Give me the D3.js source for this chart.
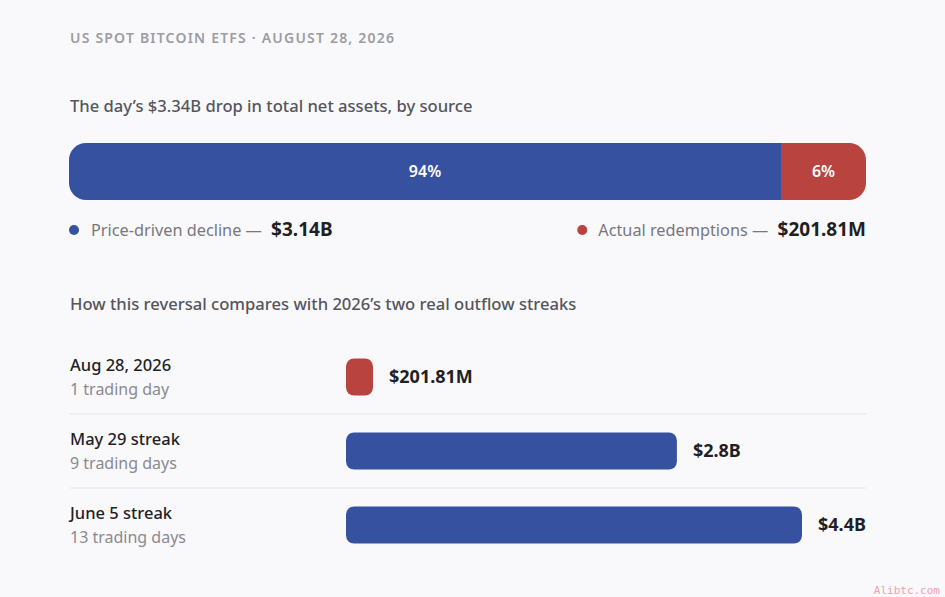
<!DOCTYPE html>
<html>
<head>
<meta charset="utf-8">
<script src="https://cdn.jsdelivr.net/npm/d3@7"></script>
<style>
  html, body { margin: 0; padding: 0; background: #f9f9fc; }
  svg { display: block; font-family: "Noto Sans", "Open Sans", sans-serif; }
</style>
</head>
<body>
<div id="chart"></div>
<script>
// --- data ---
const kicker = "US SPOT BITCOIN ETFS · AUGUST 28, 2026";
const title1 = "The day\u2019s $3.34B drop in total net assets, by source";
const title2 = "How this reversal compares with 2026\u2019s two real outflow streaks";

const sourceNames = ["Price-driven decline", "Actual redemptions"];
const sourceValues = [3.14, 0.20181];            // $B
const sourceLabels = ["$3.14B", "$201.81M"];
const sourceShares = [94, 6];                     // %

const streakNames = ["Aug 28, 2026", "May 29 streak", "June 5 streak"];
const streakDays = ["1 trading day", "9 trading days", "13 trading days"];
const streakValues = [0.20181, 2.8, 4.4];         // $B
const streakLabels = ["$201.81M", "$2.8B", "$4.4B"];

const blue = "#3551a0", red = "#b9433e";

// --- layout ---
const W = 945, H = 597;
const left = 69, right = 866;

const svg = d3.select("#chart").append("svg")
    .attr("width", W)
    .attr("height", H);

svg.append("text")
    .attr("x", 70).attr("y", 43)
    .attr("fill", "#9c9ca3")
    .attr("font-size", 14)
    .attr("font-weight", 600)
    .attr("letter-spacing", 1.2)
    .text(kicker);

svg.append("text")
    .attr("x", 70).attr("y", 112)
    .attr("fill", "#55555c")
    .attr("font-size", 16.6)
    .attr("font-weight", 500)
    .text(title1);

// stacked share bar
const barY = 143, barH = 57, minSeg = 85;
const xs = d3.scaleLinear().domain([0, 100]).range([0, right - left]);
const redW = Math.max(xs(sourceShares[1]), minSeg);
const segs = [
    {x0: left, x1: right - redW, c: blue, t: sourceShares[0] + "%"},
    {x0: right - redW, x1: right, c: red, t: sourceShares[1] + "%"}
];

svg.append("clipPath").attr("id", "round")
  .append("rect")
    .attr("x", left).attr("y", barY)
    .attr("width", right - left).attr("height", barH)
    .attr("rx", 17);

const sg = svg.append("g").attr("clip-path", "url(#round)");
sg.selectAll("rect").data(segs).enter().append("rect")
    .attr("x", d => d.x0).attr("y", barY)
    .attr("width", d => d.x1 - d.x0).attr("height", barH)
    .attr("fill", d => d.c);

svg.selectAll(".seglabel").data(segs).enter().append("text")
    .attr("x", d => (d.x0 + d.x1) / 2)
    .attr("y", barY + barH / 2)
    .attr("dy", "0.35em")
    .attr("text-anchor", "middle")
    .attr("fill", "#fff")
    .attr("font-size", 16)
    .attr("font-weight", 600)
    .text(d => d.t);

// legend
const legY = 230;
const leg1 = svg.append("g");
leg1.append("circle").attr("cx", 74).attr("cy", legY).attr("r", 5).attr("fill", blue);
const l1 = leg1.append("text").attr("x", 91).attr("y", legY).attr("dy", "0.35em");
l1.append("tspan").attr("fill", "#77777e").attr("font-size", 16.3).text(sourceNames[0] + " \u2014 ");
l1.append("tspan").attr("dx", 5).attr("fill", "#1f1f24").attr("font-size", 19).attr("font-weight", 700).text(sourceLabels[0]);

const leg2 = svg.append("g");
const l2 = leg2.append("text").attr("x", right).attr("y", legY).attr("dy", "0.35em")
    .attr("text-anchor", "end");
l2.append("tspan").attr("fill", "#77777e").attr("font-size", 16.3).text(sourceNames[1] + " \u2014 ");
l2.append("tspan").attr("dx", 5).attr("fill", "#1f1f24").attr("font-size", 19).attr("font-weight", 700).text(sourceLabels[1]);
const l2w = l2.node().getComputedTextLength() + 5;
leg2.append("circle").attr("cx", right - l2w - 16).attr("cy", legY).attr("r", 5).attr("fill", red);

svg.append("text")
    .attr("x", 70).attr("y", 310)
    .attr("fill", "#55555c")
    .attr("font-size", 16.6)
    .attr("font-weight", 500)
    .text(title2);

// comparison rows
const y = d3.scaleBand().domain(streakNames).range([340, 562]);
const trackX = 346, trackW = right - trackX, labelRoom = 64, minBar = 27, rowBarH = 37;
const x = d3.scaleLinear().domain([0, d3.max(streakValues)]).range([0, trackW]);
const rows = streakNames.map((n, i) => ({n, d: streakDays[i], v: streakValues[i], l: streakLabels[i]}));

const rg = svg.selectAll(".row").data(rows).enter().append("g")
    .attr("transform", d => `translate(0,${y(d.n) + y.bandwidth() / 2})`);

rg.filter((d, i) => i > 0).append("line")
    .attr("x1", 70).attr("x2", right)
    .attr("y1", -y.bandwidth() / 2).attr("y2", -y.bandwidth() / 2)
    .attr("stroke", "#e4e4e9").attr("stroke-width", 1);

rg.append("text")
    .attr("x", 70).attr("y", -6)
    .attr("fill", "#1f1f24").attr("font-size", 16.5).attr("font-weight", 500)
    .text(d => d.n);
rg.append("text")
    .attr("x", 70).attr("y", 18)
    .attr("fill", "#8a8a90").attr("font-size", 16)
    .text(d => d.d);

const bw = d => Math.min(Math.max(x(d.v), minBar), trackW - labelRoom);
rg.append("rect")
    .attr("x", trackX).attr("y", -rowBarH / 2)
    .attr("width", bw).attr("height", rowBarH)
    .attr("rx", 8)
    .attr("fill", (d, i) => i === 0 ? red : blue);
rg.append("text")
    .attr("x", d => trackX + bw(d) + 16)
    .attr("dy", "0.35em")
    .attr("fill", "#1f1f24").attr("font-size", 18).attr("font-weight", 700)
    .text(d => d.l);

// watermark
svg.append("text")
    .attr("x", 940).attr("y", 594)
    .attr("text-anchor", "end")
    .attr("fill", "#f0a0b0")
    .attr("font-family", "DejaVu Sans Mono, monospace")
    .attr("font-size", 11)
    .text("Alibtc.com");
</script>
</body>
</html>
